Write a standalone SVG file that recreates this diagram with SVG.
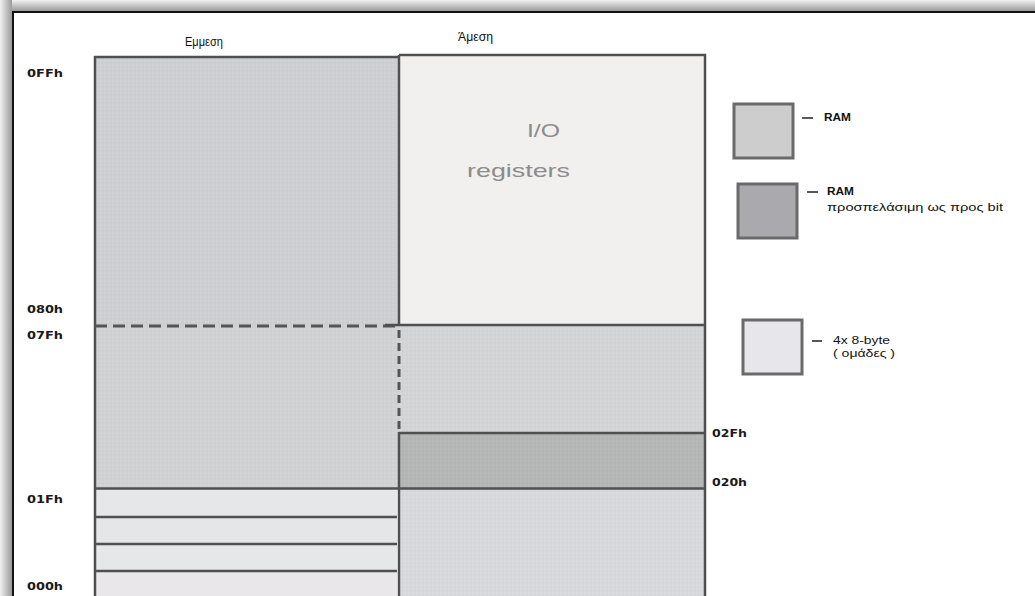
<svg xmlns="http://www.w3.org/2000/svg" width="1035" height="596" viewBox="0 0 1035 596">
<defs>
<linearGradient id="shTop" x1="0" y1="0" x2="0" y2="1"><stop offset="0" stop-color="#f2f2f2"/><stop offset="1" stop-color="#9a9a9a"/></linearGradient>
<linearGradient id="shLeft" x1="0" y1="0" x2="1" y2="0"><stop offset="0" stop-color="#f2f2f2"/><stop offset="1" stop-color="#9a9a9a"/></linearGradient>
<pattern id="grain" width="4" height="4" patternUnits="userSpaceOnUse"><rect width="4" height="4" fill="none"/><circle cx="1" cy="1" r="0.6" fill="#ffffff" opacity="0.25"/><circle cx="3" cy="3" r="0.6" fill="#888" opacity="0.15"/></pattern>
</defs>
<style>
.ln{stroke:#505050;stroke-width:2.5;fill:none}
.dash{stroke:#555;stroke-width:3;fill:none;stroke-dasharray:12 6}
.vdash{stroke:#555;stroke-width:3;fill:none;stroke-dasharray:8 5}
.addr{font-family:"DejaVu Sans",sans-serif;font-weight:bold;font-size:10px;fill:#1a1a1a}
.hdr{font-family:"Liberation Sans",sans-serif;font-size:13px;fill:#111}
.io{font-family:"Liberation Sans",sans-serif;font-size:19px;fill:#8c8c8c}
.leg{font-family:"Liberation Sans",sans-serif;font-size:11px;fill:#111}
.legb{font-family:"Liberation Sans",sans-serif;font-weight:bold;font-size:10.5px;fill:#111}
.box{stroke:#6a6a6a;stroke-width:3}
</style>
<rect width="1035" height="596" fill="#ffffff"/>
<g id="frame">
<rect x="0" y="0" width="1035" height="11" fill="url(#shTop)"/>
<rect x="0" y="0" width="12" height="596" fill="url(#shLeft)"/>
<path d="M13,596 V12 H1035" stroke="#111" stroke-width="2" fill="none"/>
</g>
<g id="headers">
<text class="hdr" x="185" y="46" textLength="38" lengthAdjust="spacingAndGlyphs">Εμμεση</text>
<text class="hdr" x="458" y="41" textLength="35" lengthAdjust="spacingAndGlyphs">Άμεση</text>
</g>
<g id="ram-indirect-upper"><rect x="95" y="57" width="304" height="269" fill="#cdcfd3"/><rect x="95" y="57" width="304" height="269" fill="url(#grain)"/></g>
<g id="ram-lower-left"><rect x="95" y="326" width="304" height="162" fill="#d0d2d4"/><rect x="95" y="326" width="304" height="162" fill="url(#grain)"/></g>
<g id="banks">
<rect x="95" y="488" width="302" height="29" fill="#e5e7e9"/>
<rect x="95" y="517" width="302" height="27" fill="#e4e6e8"/>
<rect x="95" y="544" width="302" height="27" fill="#e5e7e9"/>
<rect x="95" y="571" width="302" height="25" fill="#e9e7ea"/>
</g>
<g id="io-registers">
<rect x="399" y="55" width="306" height="271" fill="#f1f0ee"/>
<text class="io" x="527" y="137" textLength="33" lengthAdjust="spacingAndGlyphs">I/O</text>
<text class="io" x="467" y="177" textLength="103" lengthAdjust="spacingAndGlyphs">registers</text>
</g>
<g id="ram-direct-mid"><rect x="399" y="326" width="306" height="107" fill="#d3d4d6"/><rect x="399" y="326" width="306" height="107" fill="url(#grain)"/></g>
<g id="bit-addressable"><rect x="399" y="433" width="306" height="55" fill="#b3b6b5"/><rect x="399" y="433" width="306" height="55" fill="url(#grain)"/></g>
<g id="ram-direct-low"><rect x="399" y="488" width="306" height="108" fill="#d7d9dc"/><rect x="399" y="488" width="306" height="108" fill="url(#grain)"/></g>
<g id="lines">
<path class="ln" d="M95,596 V57 H399 M399,55 H705 V596"/>
<path class="ln" d="M399,55 V326"/>
<path class="vdash" d="M399,330 V430"/>
<path class="ln" d="M399,432 V596"/>
<path class="dash" d="M95,326 H399"/>
<path class="ln" d="M385,325 H705"/>
<path class="ln" d="M399,433 H705"/>
<path class="ln" d="M95,488.5 H705"/>
<path class="ln" d="M95,517 H397 M95,544 H397 M95,571 H397"/>
</g>
<g id="addresses">
<text class="addr" x="27" y="77" textLength="36" lengthAdjust="spacingAndGlyphs">0FFh</text>
<text class="addr" x="27" y="313" textLength="36" lengthAdjust="spacingAndGlyphs">080h</text>
<text class="addr" x="27" y="339" textLength="36" lengthAdjust="spacingAndGlyphs">07Fh</text>
<text class="addr" x="27" y="503" textLength="36" lengthAdjust="spacingAndGlyphs">01Fh</text>
<text class="addr" x="27" y="590" textLength="36" lengthAdjust="spacingAndGlyphs">000h</text>
<text class="addr" x="712" y="437" textLength="35" lengthAdjust="spacingAndGlyphs">02Fh</text>
<text class="addr" x="712" y="486" textLength="35" lengthAdjust="spacingAndGlyphs">020h</text>
</g>
<g id="legend-ram">
<rect class="box" x="734" y="104" width="59" height="54" fill="#cdcdce"/>
<path d="M802,118 H813" stroke="#222" stroke-width="1.5"/>
<text class="legb" x="824" y="121" textLength="27" lengthAdjust="spacingAndGlyphs">RAM</text>
</g>
<g id="legend-bit">
<rect class="box" x="738" y="184" width="59" height="54" fill="#aaaaae"/>
<path d="M807,192 H818" stroke="#222" stroke-width="1.5"/>
<text class="legb" x="827" y="195" textLength="27" lengthAdjust="spacingAndGlyphs">RAM</text>
<text class="leg" x="827" y="211" textLength="176" lengthAdjust="spacingAndGlyphs">προσπελάσιμη ως προς  bit</text>
</g>
<g id="legend-banks">
<rect class="box" x="743" y="320" width="59" height="54" fill="#e7e7eb"/>
<path d="M812,341 H822" stroke="#222" stroke-width="1.5"/>
<text class="leg" x="833" y="344" textLength="57" lengthAdjust="spacingAndGlyphs">4x 8-byte</text>
<text class="leg" x="833" y="357" textLength="62" lengthAdjust="spacingAndGlyphs">( ομάδες )</text>
</g>
</svg>
